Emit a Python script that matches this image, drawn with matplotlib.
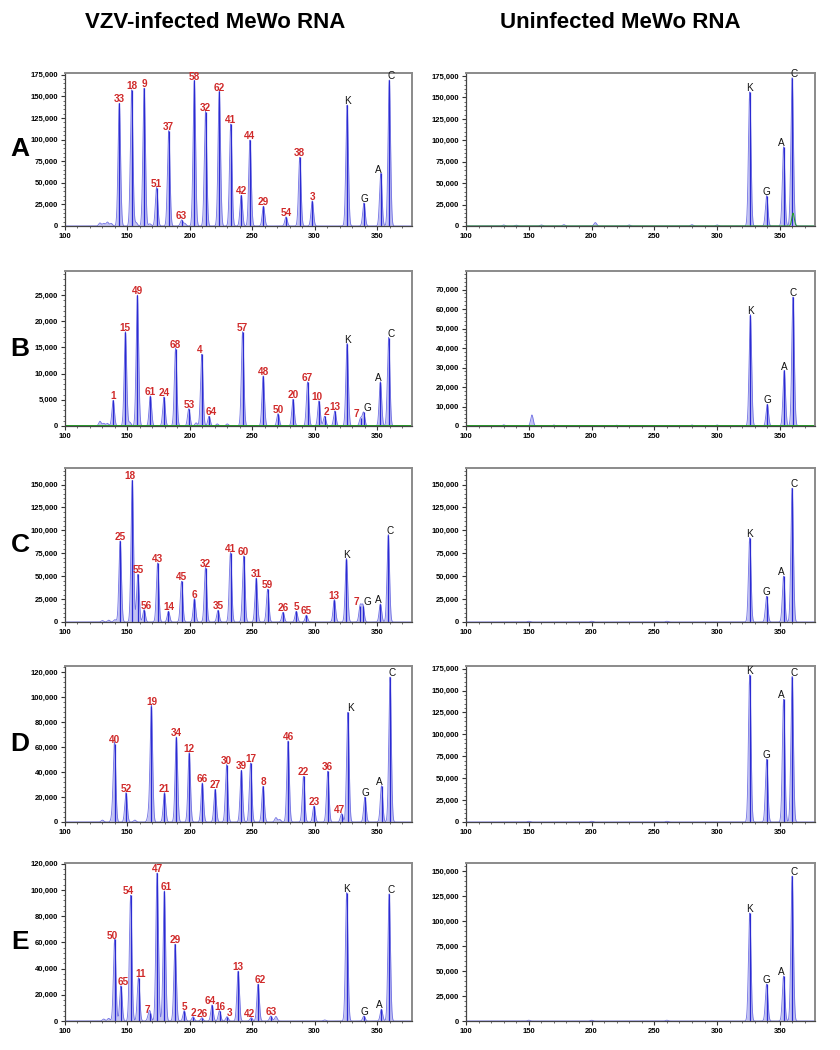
import numpy as np
import matplotlib.pyplot as plt
from matplotlib.ticker import MultipleLocator, FuncFormatter

plt.rcParams['font.family'] = ['Liberation Sans', 'DejaVu Sans']

# ---------------- row A ----------------
a_vzv_pos = [143.5, 153.4, 163.4, 173.4, 183.1, 193.4, 203.6, 212.6, 223.6, 232.8,
             241.2, 248.2, 259.0, 277.1, 288.1, 298.1, 326.0, 339.5, 353.0, 359.8]
a_vzv_ht = [142000, 157600, 159500, 44500, 110300, 7000, 168400, 132400, 155600, 118000,
            35600, 99500, 22800, 10500, 79400, 29000, 140000, 26700, 60800, 169000]
a_vzv_lbl = ['33', '18', '9', '51', '37', '63', '58', '32', '62', '41',
             '42', '44', '29', '54', '38', '3', 'K', 'G', 'A', 'C']
a_vzv_noise_pos = [128, 131, 134, 137, 157, 168, 196]
a_vzv_noise_ht = [3500, 3000, 4500, 3000, 4000, 2500, 3000]

a_mock_pos = [326.0, 339.5, 353.0, 359.8]
a_mock_ht = [156500, 35400, 92400, 173000]
a_mock_lbl = ['K', 'G', 'A', 'C']
a_mock_noise_pos = [130, 140, 160, 178, 203, 230, 280, 300]
a_mock_noise_ht = [1200, 1000, 1200, 1500, 4000, 1200, 1500, 1200]
a_mock_green_pos = [360.5]
a_mock_green_ht = [15000]

# ---------------- row B ----------------
b_vzv_pos = [138.6, 148.4, 158.0, 168.4, 179.3, 188.6, 199.2, 209.6, 215.4, 242.3,
             258.8, 270.7, 282.7, 294.4, 303.5, 308.0, 316.2, 326.0, 336.8, 339.2,
             352.7, 359.3]
b_vzv_ht = [4900, 18000, 25000, 5740, 5550, 14800, 3300, 13700, 1850, 18000,
            9570, 2360, 5100, 8420, 4800, 1850, 2870, 15750, 1470, 2600,
            8450, 16900]
b_vzv_lbl = ['1', '15', '49', '61', '24', '68', '53', '4', '64', '57',
             '48', '50', '20', '67', '10', '2', '13', 'K', '7', 'G',
             'A', 'C']
b_vzv_noise_pos = [128, 131, 134, 152, 205, 222, 230]
b_vzv_noise_ht = [900, 500, 500, 700, 600, 400, 400]

b_mock_pos = [326.5, 340.0, 353.5, 360.5]
b_mock_ht = [57100, 11150, 28500, 66200]
b_mock_lbl = ['K', 'G', 'A', 'C']
b_mock_noise_pos = [152.5, 130, 170, 220, 280, 300]
b_mock_noise_ht = [5660, 600, 500, 400, 500, 500]

# ---------------- row C ----------------
c_vzv_pos = [144.2, 153.9, 158.4, 163.4, 174.2, 182.9, 193.4, 203.7, 212.6, 222.6,
             232.6, 243.2, 253.2, 262.4, 274.7, 285.3, 293.4, 315.8, 325.5, 336.5,
             338.7, 352.7, 359.0]
c_vzv_ht = [88500, 154700, 52000, 13500, 64400, 11650, 44400, 25500, 59300, 12700,
            75700, 72100, 48000, 35700, 10600, 11650, 7300, 24400, 69200, 17700,
            17700, 19600, 95300]
c_vzv_lbl = ['25', '18', '55', '56', '43', '14', '45', '6', '32', '35',
             '41', '60', '31', '59', '26', '5', '65', '13', 'K', '7',
             'G', 'A', 'C']
c_vzv_noise_pos = [130, 135, 140]
c_vzv_noise_ht = [1500, 2000, 2500]

c_mock_pos = [326.0, 339.5, 353.0, 359.8]
c_mock_ht = [92000, 28000, 50000, 146000]
c_mock_lbl = ['K', 'G', 'A', 'C']
c_mock_noise_pos = [150, 200, 260]
c_mock_noise_ht = [800, 800, 800]

# ---------------- row D ----------------
d_vzv_pos = [139.7, 148.9, 169.2, 179.7, 189.2, 199.5, 210.0, 220.3, 229.5, 241.3,
             248.7, 258.7, 278.7, 291.1, 299.5, 310.5, 321.6, 326.6, 340.3, 353.6,
             360.4]
d_vzv_ht = [62700, 23500, 92800, 23500, 68000, 55500, 31200, 26100, 45900, 41300,
            47200, 28500, 64800, 36500, 12800, 40500, 6700, 87700, 20000, 29000,
            116000]
d_vzv_lbl = ['40', '52', '19', '21', '34', '12', '66', '27', '30', '39',
             '17', '8', '46', '22', '23', '36', '47', 'K', 'G', 'A',
             'C']
d_vzv_noise_pos = [130, 138, 156, 167, 269, 272]
d_vzv_noise_ht = [1500, 5000, 1500, 6000, 3500, 2000]

d_mock_pos = [326.0, 339.5, 353.0, 359.8]
d_mock_ht = [168000, 72000, 140000, 166000]
d_mock_lbl = ['K', 'G', 'A', 'C']
d_mock_noise_pos = [150, 200, 260]
d_mock_noise_ht = [800, 800, 800]

# ---------------- row E ----------------
e_vzv_pos = [139.8, 144.8, 152.6, 158.9, 168.1, 173.8, 179.6, 188.2, 195.5, 202.6,
             209.7, 217.8, 223.8, 229.8, 238.7, 249.2, 254.7, 264.9, 325.7, 339.5,
             353.5, 359.7]
e_vzv_ht = [62200, 26900, 95900, 33000, 5800, 112900, 99200, 58600, 7900, 3300,
            2500, 12200, 7900, 3300, 38000, 2500, 28200, 3800, 97900, 3800,
            8900, 97000]
e_vzv_lbl = ['50', '65', '54', '11', '7', '47', '61', '29', '5', '2',
             '26', '64', '16', '3', '13', '42', '62', '63', 'K', 'G',
             'A', 'C']
e_vzv_noise_pos = [131, 135, 167, 269, 308]
e_vzv_noise_ht = [1500, 2000, 3500, 3500, 800]

e_mock_pos = [326.0, 339.5, 353.0, 359.8]
e_mock_ht = [108000, 37000, 45000, 145000]
e_mock_lbl = ['K', 'G', 'A', 'C']
e_mock_noise_pos = [150, 200, 260]
e_mock_noise_ht = [800, 800, 800]

row_names = ['A', 'B', 'C', 'D', 'E']
col_titles = ['VZV-infected MeWo RNA', 'Uninfected MeWo RNA']

# axis settings: (ymax, major step, minor step)
vzv_axes = [(177000, 25000, 5000), (29600, 5000, 1000), (168000, 25000, 5000),
            (124800, 20000, 4000), (120500, 20000, 4000)]
mock_axes = [(178500, 25000, 5000), (79500, 10000, 2000), (168000, 25000, 5000),
             (178000, 25000, 5000), (158000, 25000, 5000)]

vzv_rows = [
    (a_vzv_pos, a_vzv_ht, a_vzv_lbl, a_vzv_noise_pos, a_vzv_noise_ht),
    (b_vzv_pos, b_vzv_ht, b_vzv_lbl, b_vzv_noise_pos, b_vzv_noise_ht),
    (c_vzv_pos, c_vzv_ht, c_vzv_lbl, c_vzv_noise_pos, c_vzv_noise_ht),
    (d_vzv_pos, d_vzv_ht, d_vzv_lbl, d_vzv_noise_pos, d_vzv_noise_ht),
    (e_vzv_pos, e_vzv_ht, e_vzv_lbl, e_vzv_noise_pos, e_vzv_noise_ht),
]
mock_rows = [
    (a_mock_pos, a_mock_ht, a_mock_lbl, a_mock_noise_pos, a_mock_noise_ht),
    (b_mock_pos, b_mock_ht, b_mock_lbl, b_mock_noise_pos, b_mock_noise_ht),
    (c_mock_pos, c_mock_ht, c_mock_lbl, c_mock_noise_pos, c_mock_noise_ht),
    (d_mock_pos, d_mock_ht, d_mock_lbl, d_mock_noise_pos, d_mock_noise_ht),
    (e_mock_pos, e_mock_ht, e_mock_lbl, e_mock_noise_pos, e_mock_noise_ht),
]

XGRID = np.linspace(100, 378, 5000)
SIGMA = 1.0


def trace(pos, ht):
    y = np.zeros_like(XGRID)
    for p, h in zip(pos, ht):
        y += h * np.exp(-0.5 * ((XGRID - p) / SIGMA) ** 2)
    return y


def draw_panel(ax, pos, ht, lbl, npos, nht, ymax, major, minor, green=None):
    y = trace(list(pos) + list(npos), list(ht) + list(nht))
    ax.fill_between(XGRID, y, color='#c2c2f2', lw=0)
    ax.plot(XGRID, y, color='#7070e4', lw=0.6)
    ax.vlines(pos, 0, ht, color='#2a2ad2', lw=0.9)
    if green is not None:
        gy = trace(*green)
        ax.plot(XGRID, gy, color='#22a022', lw=0.7)

    # nudge labels that sit too close together
    shifts = [0.0] * len(pos)
    for i in range(len(pos) - 1):
        gap = pos[i + 1] - pos[i]
        if gap < 3.5:
            shifts[i] -= 3.0
            shifts[i + 1] += 3.0
        elif gap < 7.0:
            shifts[i] -= 1.6
            shifts[i + 1] += 1.6
    for p, h, t, s in zip(pos, ht, lbl, shifts):
        letter = t in ('K', 'G', 'A', 'C')
        ax.annotate(t, (p, h), xytext=(s, -0.8), textcoords='offset points',
                    ha='center', va='bottom', fontsize=7.2,
                    fontweight='normal' if letter else 'bold',
                    color='#111111' if letter else '#d02a2a')

    ax.set_xlim(100, 378)
    ax.set_ylim(0, ymax)
    ax.xaxis.set_major_locator(MultipleLocator(50))
    ax.xaxis.set_minor_locator(MultipleLocator(10))
    ax.yaxis.set_major_locator(MultipleLocator(major))
    ax.yaxis.set_minor_locator(MultipleLocator(minor))
    ax.yaxis.set_major_formatter(FuncFormatter(lambda v, _: '{:,}'.format(int(v))))
    ax.tick_params(axis='both', which='major', labelsize=5.5, length=3,
                   width=0.8, pad=2, color='#333333')
    ax.tick_params(axis='both', which='minor', length=1.5, width=0.6,
                   color='#555555')
    for lab in ax.get_xticklabels() + ax.get_yticklabels():
        lab.set_fontweight('bold')
    for side in ('left', 'bottom'):
        ax.spines[side].set_color('#444444')
        ax.spines[side].set_linewidth(0.9)
    for side in ('top', 'right'):
        ax.spines[side].set_color('#8a8a8a')
        ax.spines[side].set_linewidth(1.4)


fig = plt.figure(figsize=(8.4, 10.5), dpi=100)
W, H = 840.0, 1050.0
row_px = [(73, 226), (271, 426), (468, 622), (666, 822), (863, 1021)]
col_px = [(65, 412), (466, 815)]

for r, (top, bot) in enumerate(row_px):
    for c, (left, right) in enumerate(col_px):
        ax = fig.add_axes([left / W, 1 - bot / H, (right - left) / W, (bot - top) / H])
        if c == 0:
            pos, ht, lbl, npos, nht = vzv_rows[r]
            ymax, major, minor = vzv_axes[r]
            green = None
        else:
            pos, ht, lbl, npos, nht = mock_rows[r]
            ymax, major, minor = mock_axes[r]
            green = (a_mock_green_pos, a_mock_green_ht) if r == 0 else None
        draw_panel(ax, pos, ht, lbl, npos, nht, ymax, major, minor, green)
        if r == 1:
            ax.axhline(150 if c == 0 else 300, color='#22a022', lw=0.7)
    fig.text(20 / W, 1 - (top + bot) / 2 / H, row_names[r], fontsize=19,
             fontweight='bold', ha='center', va='center')

fig.text(215 / W, 1 - 22 / H, col_titles[0], fontsize=16, fontweight='bold',
         ha='center', va='center')
fig.text(620 / W, 1 - 22 / H, col_titles[1], fontsize=16, fontweight='bold',
         ha='center', va='center')

fig.savefig('out.png', dpi=100)
